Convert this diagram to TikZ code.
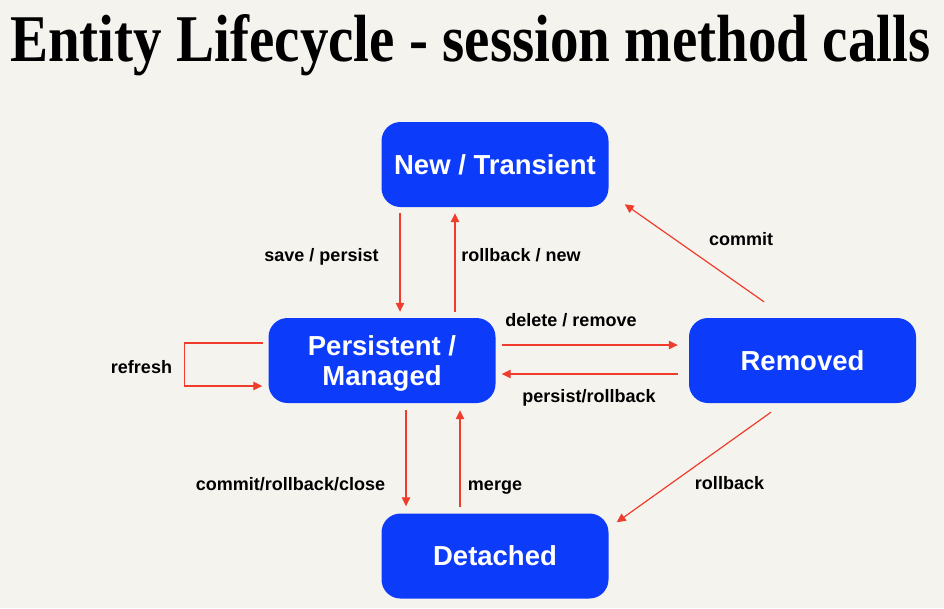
\documentclass[tikz,border=0pt]{standalone}
\usepackage{fontspec}
\usepackage{graphicx}
\newfontfamily\labelfont{Liberation Sans}
\newfontfamily\titlefont{Liberation Serif}
\usetikzlibrary{arrows.meta}

\definecolor{paper}{RGB}{245,243,238}
\definecolor{stateblue}{RGB}{12,60,250}
\definecolor{arrowred}{RGB}{240,60,45}

\tikzset{
  statebox/.style={draw=none, fill=stateblue, rounded corners=19pt,
    minimum width=227pt, minimum height=85pt, inner sep=0pt,
    text=white, align=center,
    font=\labelfont\bfseries\fontsize{27.5}{30}\selectfont},
  translabel/.style={anchor=base, inner sep=0pt, text=black,
    font=\labelfont\bfseries\fontsize{18}{20}\selectfont},
  trans/.style={draw=arrowred, line width=1.2pt,
    -{Triangle[length=9pt,width=8.5pt]}}
}

\begin{document}
\begin{tikzpicture}[x=1pt,y=-1pt]
  % page background
  \fill[paper] (0,0) rectangle (944,608);
  \useasboundingbox (0,0) rectangle (944,608);

  % heading
  \node[anchor=base west, inner sep=0pt] (title) at (10,61)
    {\resizebox{920pt}{47pt}{\titlefont\bfseries Entity Lifecycle - session method calls}};

  % states
  \node[statebox] (nt) at (495,164.5) {New / Transient};
  \node[statebox] (pm) at (382,360.5) {\rule{0pt}{25pt}Persistent /\\Managed};
  \node[statebox] (rm) at (802.5,360.5) {Removed};
  \node[statebox] (dt) at (495,556) {Detached};

  % New / Transient <-> Persistent
  \draw[trans] ([xshift=-95pt,yshift=-6pt]nt.south) -- ([xshift=18pt,yshift=6pt]pm.north);
  \draw[trans] ([xshift=73pt,yshift=6pt]pm.north) -- ([xshift=-40pt,yshift=-6pt]nt.south);
  \node[translabel] (lsave) at (321.5,261) {save / persist};
  \node[translabel] (lrbnew) at (521,261) {rollback / new};

  % Persistent <-> Removed
  \draw[trans] ([xshift=6pt,yshift=15.5pt]pm.east) -- ([xshift=-11pt,yshift=15.5pt]rm.west);
  \draw[trans] ([xshift=-11pt,yshift=-13.5pt]rm.west) -- ([xshift=6pt,yshift=-13.5pt]pm.east);
  \node[translabel] (ldel) at (571,326) {delete / remove};
  \node[translabel] (lpr) at (589,402) {persist/rollback};

  % Removed -> New / Transient
  \draw[trans] ([xshift=-38.5pt,yshift=16pt]rm.north) -- ([xshift=16pt,yshift=3pt]nt.south east);
  \node[translabel] (lcommit) at (741,245) {commit};

  % refresh loop
  \draw[trans] ([xshift=-5pt,yshift=17.5pt]pm.west) -- ++(-79,0)
    |- ([xshift=-6pt,yshift=-25.5pt]pm.west);
  \node[translabel] (lrefresh) at (141.5,373) {refresh};

  % Persistent <-> Detached
  \draw[trans] ([xshift=24pt,yshift=-7pt]pm.south) -- ([xshift=-89pt,yshift=7pt]dt.north);
  \draw[trans] ([xshift=-35pt,yshift=6pt]dt.north) -- ([xshift=78pt,yshift=-7pt]pm.south);
  \node[translabel] (lclose) at (290.5,490) {commit/rollback/close};
  \node[translabel] (lmerge) at (495,490) {merge};

  % Removed -> Detached
  \draw[trans] ([xshift=-31.5pt,yshift=-9pt]rm.south) -- ([xshift=8pt,yshift=-9pt]dt.north east);
  \node[translabel] (lrb) at (729.5,489) {rollback};
\end{tikzpicture}
\end{document}
